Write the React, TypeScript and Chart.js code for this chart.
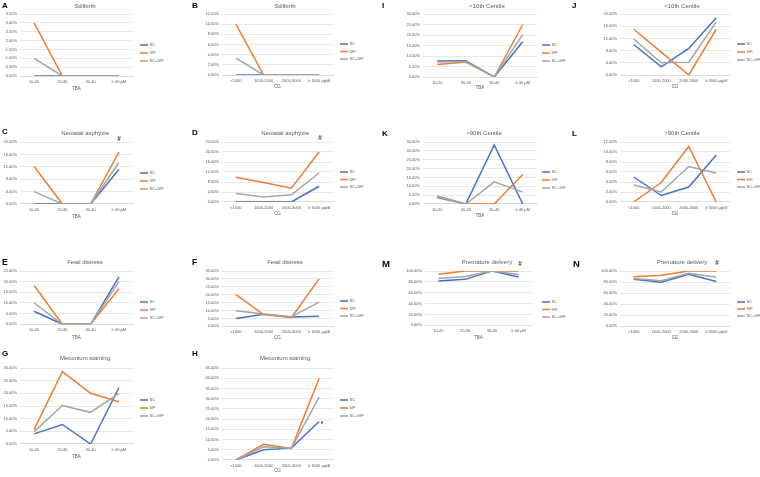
import React, { useEffect, useRef } from "react";
import { Chart, registerables } from "chart.js";
Chart.register(...registerables);

// ---------- categories & series ----------
const TBA_CATS = ["10-20", "20-30", "30-40", "≥ 40 μM"];
const CG_CATS = ["<1000", "1000-2000", "2000-3000", "≥ 3000 μg/dl"];
const SERIES_NAMES = ["SC", "IVF", "SC+IVF"];
const SERIES_COLORS = ["#4472C4", "#ED7D31", "#A5A5A5"];

// A: Stillbirth by TBA
const stillbirthTbaSC = [0, 0, 0, 0];
const stillbirthTbaIVF = [3.0, 0, 0, 0];
const stillbirthTbaBoth = [1.0, 0, 0, 0];
// B: Stillbirth by CG
const stillbirthCgSC = [0, 0, 0, 0];
const stillbirthCgIVF = [10.0, 0, 0, 0];
const stillbirthCgBoth = [3.33, 0, 0, 0];
// C: Neonatal asphyxia by TBA
const asphyxiaTbaSC = [0, 0, 0, 11.1];
const asphyxiaTbaIVF = [12.1, 0, 0, 16.7];
const asphyxiaTbaBoth = [4.0, 0, 0, 13.4];
// D: Neonatal asphyxia by CG
const asphyxiaCgSC = [0, 0, 0, 6.3];
const asphyxiaCgIVF = [9.9, 7.8, 5.5, 20.0];
const asphyxiaCgBoth = [3.4, 2.0, 2.9, 11.6];
// E: Fetal distress by TBA
const distressTbaSC = [6.1, 0, 0, 22.2];
const distressTbaIVF = [18.2, 0, 0, 16.7];
const distressTbaBoth = [10.1, 0, 0, 20.0];
// F: Fetal distress by CG
const distressCgSC = [5.0, 7.7, 5.9, 6.4];
const distressCgIVF = [20.0, 7.4, 5.5, 30.0];
const distressCgBoth = [9.9, 7.8, 6.1, 15.3];
// G: Meconium staining by TBA
const meconiumTbaSC = [4.0, 7.7, 0, 22.2];
const meconiumTbaIVF = [5.8, 28.6, 20.0, 16.7];
const meconiumTbaBoth = [4.9, 15.2, 12.5, 20.0];
// H: Meconium staining by CG
const meconiumCgSC = [0, 5.0, 5.8, 18.8];
const meconiumCgIVF = [0, 7.7, 5.6, 40.0];
const meconiumCgBoth = [0, 6.5, 5.7, 30.8];
// I: <10th centile by TBA
const lowCentileTbaSC = [7.6, 7.7, 0, 16.8];
const lowCentileTbaIVF = [6.0, 7.1, 0, 25.0];
const lowCentileTbaBoth = [7.1, 7.4, 0, 20.2];
// J: <10th centile by CG
const lowCentileCgSC = [10.0, 2.7, 8.7, 18.8];
const lowCentileCgIVF = [15.0, 7.5, 0, 15.0];
const lowCentileCgBoth = [11.8, 4.0, 4.2, 17.4];
// K: >90th centile by TBA
const highCentileTbaSC = [3.7, 0, 33.3, 0];
const highCentileTbaIVF = [4.5, 0, 0, 16.7];
const highCentileTbaBoth = [4.1, 0, 12.5, 6.7];
// L: >90th centile by CG
const highCentileCgSC = [5.0, 1.3, 3.0, 9.4];
const highCentileCgIVF = [0, 3.9, 11.1, 0];
const highCentileCgBoth = [3.4, 2.0, 7.1, 5.8];
// M: Premature delivery by TBA
const prematureTbaSC = [81.4, 84.6, 100, 88.8];
const prematureTbaIVF = [94.0, 100, 100, 100];
const prematureTbaBoth = [86.4, 90.0, 100, 93.6];
// N: Premature delivery by CG
const prematureCgSC = [85.0, 79.6, 94.0, 81.0];
const prematureCgIVF = [89.8, 92.4, 100, 100];
const prematureCgBoth = [86.6, 82.4, 96.0, 88.6];

// ---------- layout (page coordinates) ----------
type PanelSpec = {
  letter: string;
  letterSize: number;
  letterPos: [number, number];
  title: string;
  titlePos: [number, number];
  cats: string[];
  xTitle: string;
  values: number[][];
  yMax: number;
  yStep: number;
  plot: [number, number, number, number]; // left, right, top, bottom
  xTitleY: number;
  legendPos: [number, number];
  legendGap: number;
  mark?: string;
  markPos?: [number, number];
  box: [number, number, number, number]; // left, top, width, height
};

const PANELS: PanelSpec[] = [
  { letter: "A", letterSize: 8, letterPos: [2, 2], title: "Stillbirth", titlePos: [85, 6], cats: TBA_CATS, xTitle: "TBA",
    values: [stillbirthTbaSC, stillbirthTbaIVF, stillbirthTbaBoth], yMax: 3.5, yStep: 0.5,
    plot: [20, 133, 14, 76], xTitleY: 89, legendPos: [140, 45], legendGap: 8, box: [0, 0, 190, 110] },
  { letter: "B", letterSize: 8, letterPos: [192, 2], title: "Stillbirth", titlePos: [285, 6], cats: CG_CATS, xTitle: "CG",
    values: [stillbirthCgSC, stillbirthCgIVF, stillbirthCgBoth], yMax: 12, yStep: 2,
    plot: [222, 333, 14, 75], xTitleY: 87, legendPos: [340, 44], legendGap: 7.5, box: [190, 0, 190, 110] },
  { letter: "I", letterSize: 8, letterPos: [382, 2], title: "<10th Centile", titlePos: [487, 6], cats: TBA_CATS, xTitle: "TBA",
    values: [lowCentileTbaSC, lowCentileTbaIVF, lowCentileTbaBoth], yMax: 30, yStep: 5,
    plot: [423, 537, 14, 77], xTitleY: 88, legendPos: [542, 45], legendGap: 8, box: [380, 0, 190, 110] },
  { letter: "J", letterSize: 8, letterPos: [572, 2], title: "<10th Centile", titlePos: [682, 6], cats: CG_CATS, xTitle: "CG",
    values: [lowCentileCgSC, lowCentileCgIVF, lowCentileCgBoth], yMax: 20, yStep: 4,
    plot: [620, 730, 14, 75], xTitleY: 87, legendPos: [737, 44], legendGap: 8, box: [570, 0, 190, 110] },
  { letter: "C", letterSize: 8, letterPos: [2, 128], title: "Neotatal asphyxia", titlePos: [85, 133], cats: TBA_CATS, xTitle: "TBA",
    values: [asphyxiaTbaSC, asphyxiaTbaIVF, asphyxiaTbaBoth], yMax: 20, yStep: 4,
    plot: [20, 133, 142, 204], xTitleY: 217, legendPos: [140, 173], legendGap: 8, mark: "#", markPos: [119, 139], box: [0, 110, 190, 115] },
  { letter: "D", letterSize: 8, letterPos: [192, 129], title: "Neotatal asphyxia", titlePos: [285, 133], cats: CG_CATS, xTitle: "CG",
    values: [asphyxiaCgSC, asphyxiaCgIVF, asphyxiaCgBoth], yMax: 24, yStep: 4,
    plot: [222, 333, 142, 202], xTitleY: 214, legendPos: [340, 172], legendGap: 7.5, mark: "#", markPos: [320, 138], box: [190, 110, 190, 115] },
  { letter: "K", letterSize: 8, letterPos: [382, 130], title: ">90th Centile", titlePos: [484, 133], cats: TBA_CATS, xTitle: "TBA",
    values: [highCentileTbaSC, highCentileTbaIVF, highCentileTbaBoth], yMax: 35, yStep: 5,
    plot: [423, 537, 142, 204], xTitleY: 216, legendPos: [542, 172], legendGap: 8, box: [380, 110, 190, 115] },
  { letter: "L", letterSize: 8, letterPos: [572, 130], title: ">90th Centile", titlePos: [682, 133], cats: CG_CATS, xTitle: "CG",
    values: [highCentileCgSC, highCentileCgIVF, highCentileCgBoth], yMax: 12, yStep: 2,
    plot: [620, 730, 142, 202], xTitleY: 214, legendPos: [737, 172], legendGap: 7.5, box: [570, 110, 190, 115] },
  { letter: "E", letterSize: 8.5, letterPos: [2, 258], title: "Fetal distress", titlePos: [85, 262], cats: TBA_CATS, xTitle: "TBA",
    values: [distressTbaSC, distressTbaIVF, distressTbaBoth], yMax: 25, yStep: 5,
    plot: [20, 133, 271, 333], xTitleY: 346, legendPos: [140, 302], legendGap: 8, box: [0, 225, 190, 115] },
  { letter: "F", letterSize: 8.5, letterPos: [192, 258], title: "Fetal distress", titlePos: [285, 262], cats: CG_CATS, xTitle: "CG",
    values: [distressCgSC, distressCgIVF, distressCgBoth], yMax: 35, yStep: 5,
    plot: [222, 333, 271, 332], xTitleY: 343, legendPos: [340, 301], legendGap: 7.5, box: [190, 225, 190, 115] },
  { letter: "M", letterSize: 9.5, letterPos: [382, 260], title: "Premature delivery", titlePos: [487, 262], cats: TBA_CATS, xTitle: "TBA",
    values: [prematureTbaSC, prematureTbaIVF, prematureTbaBoth], yMax: 100, yStep: 20,
    plot: [425, 532, 271, 333], xTitleY: 345, legendPos: [542, 302], legendGap: 7.5, mark: "#", markPos: [520, 264], box: [380, 225, 190, 115] },
  { letter: "N", letterSize: 9.5, letterPos: [573, 260], title: "Premature delivery", titlePos: [682, 262], cats: CG_CATS, xTitle: "CG",
    values: [prematureCgSC, prematureCgIVF, prematureCgBoth], yMax: 100, yStep: 20,
    plot: [620, 730, 271, 332], xTitleY: 343, legendPos: [737, 302], legendGap: 7, mark: "#", markPos: [717, 263], box: [570, 225, 190, 115] },
  { letter: "G", letterSize: 8, letterPos: [2, 350], title: "Meconium staining", titlePos: [85, 358], cats: TBA_CATS, xTitle: "TBA",
    values: [meconiumTbaSC, meconiumTbaIVF, meconiumTbaBoth], yMax: 30, yStep: 5,
    plot: [20, 133, 368, 444], xTitleY: 457, legendPos: [140, 400], legendGap: 8, box: [0, 340, 190, 137] },
  { letter: "H", letterSize: 8, letterPos: [192, 350], title: "Meconium staining", titlePos: [285, 358], cats: CG_CATS, xTitle: "CG",
    values: [meconiumCgSC, meconiumCgIVF, meconiumCgBoth], yMax: 45, yStep: 5,
    plot: [222, 333, 368, 460], xTitleY: 471, legendPos: [340, 400], legendGap: 8, mark: "*", markPos: [322, 424], box: [190, 340, 190, 137] },
];

const FONT = "'Liberation Sans', Arial, sans-serif";
const TEXT_GRAY = "#595959";
const GRID = "#D9D9D9";
const Y_AXIS_W = 22;
const TICK_FONT = 4;
const XTITLE_FONT = 4.5;

function Panel({ p }: { p: PanelSpec }) {
  const ref = useRef<HTMLCanvasElement>(null);
  useEffect(() => {
    const [bl, bt, bw, bh] = p.box;
    const [x0, x1, y0, y1] = p.plot;
    const xAxisH = p.xTitleY - y1 + (XTITLE_FONT * 1.2) / 2;
    const decor = {
      id: "decor" + p.letter,
      afterDraw(chart: Chart) {
        const ctx = chart.ctx;
        ctx.save();
        ctx.fillStyle = "#000";
        ctx.font = `bold ${p.letterSize}px ${FONT}`;
        ctx.textAlign = "left";
        ctx.textBaseline = "top";
        ctx.fillText(p.letter, p.letterPos[0] - bl, p.letterPos[1] - bt);
        ctx.fillStyle = TEXT_GRAY;
        ctx.font = `6px ${FONT}`;
        ctx.textAlign = "center";
        ctx.textBaseline = "middle";
        ctx.fillText(p.title, p.titlePos[0] - bl, p.titlePos[1] - bt);
        if (p.mark && p.markPos) {
          ctx.fillStyle = "#404040";
          ctx.font = `bold 6.5px ${FONT}`;
          ctx.fillText(p.mark, p.markPos[0] - bl, p.markPos[1] - bt);
        }
        ctx.font = `${TICK_FONT}px ${FONT}`;
        ctx.textAlign = "left";
        SERIES_NAMES.forEach((name, i) => {
          const lx = p.legendPos[0] - bl;
          const ly = p.legendPos[1] - bt + i * p.legendGap;
          ctx.strokeStyle = SERIES_COLORS[i];
          ctx.lineWidth = 1.5;
          ctx.beginPath();
          ctx.moveTo(lx, ly);
          ctx.lineTo(lx + 8, ly);
          ctx.stroke();
          ctx.fillStyle = TEXT_GRAY;
          ctx.fillText(name, lx + 9.5, ly);
        });
        ctx.restore();
      },
    };
    const chart = new Chart(ref.current!, {
      type: "line",
      data: {
        labels: p.cats,
        datasets: p.values.map((vals, i) => ({
          label: SERIES_NAMES[i],
          data: vals,
          borderColor: SERIES_COLORS[i],
          backgroundColor: SERIES_COLORS[i],
          borderWidth: 1.5,
          pointRadius: 0,
          pointHoverRadius: 0,
          tension: 0,
          order: 2 - i,
        })),
      },
      options: {
        animation: false,
        responsive: false,
        events: [],
        layout: {
          padding: {
            left: x0 - bl - Y_AXIS_W,
            top: y0 - bt,
            right: bl + bw - x1,
            bottom: Math.max(0, bt + bh - (y1 + xAxisH)),
          },
        },
        plugins: {
          legend: { display: false },
          title: { display: false },
          tooltip: { enabled: false },
        },
        scales: {
          x: {
            offset: true,
            grid: { display: false, drawTicks: false },
            border: { display: true, color: GRID, width: 0.7 },
            ticks: {
              color: TEXT_GRAY,
              font: { family: FONT, size: TICK_FONT },
              padding: 3,
              maxRotation: 0,
              minRotation: 0,
              autoSkip: false,
            },
            title: {
              display: true,
              text: p.xTitle,
              color: TEXT_GRAY,
              font: { family: FONT, size: XTITLE_FONT },
              padding: 0,
            },
            afterFit: (s: any) => {
              s.height = xAxisH;
            },
          },
          y: {
            min: 0,
            max: p.yMax,
            grid: { color: GRID, lineWidth: 0.6, drawTicks: false },
            border: { display: false },
            ticks: {
              stepSize: p.yStep,
              color: TEXT_GRAY,
              font: { family: FONT, size: TICK_FONT },
              padding: 3,
              callback: (v: any) => Number(v).toFixed(2) + "%",
            },
            afterFit: (s: any) => {
              s.width = Y_AXIS_W;
            },
          },
        },
      },
      plugins: [decor],
    });
    return () => chart.destroy();
  }, [p]);
  const [bl, bt, bw, bh] = p.box;
  return (
    <canvas
      ref={ref}
      width={bw}
      height={bh}
      style={{ position: "absolute", left: bl, top: bt, width: bw, height: bh }}
    />
  );
}

export default function App() {
  return (
    <div
      style={{
        position: "fixed",
        left: 0,
        top: 0,
        width: 760,
        height: 477,
        background: "#fff",
        overflow: "hidden",
      }}
    >
      {PANELS.map((p) => (
        <Panel key={p.letter} p={p} />
      ))}
    </div>
  );
}
